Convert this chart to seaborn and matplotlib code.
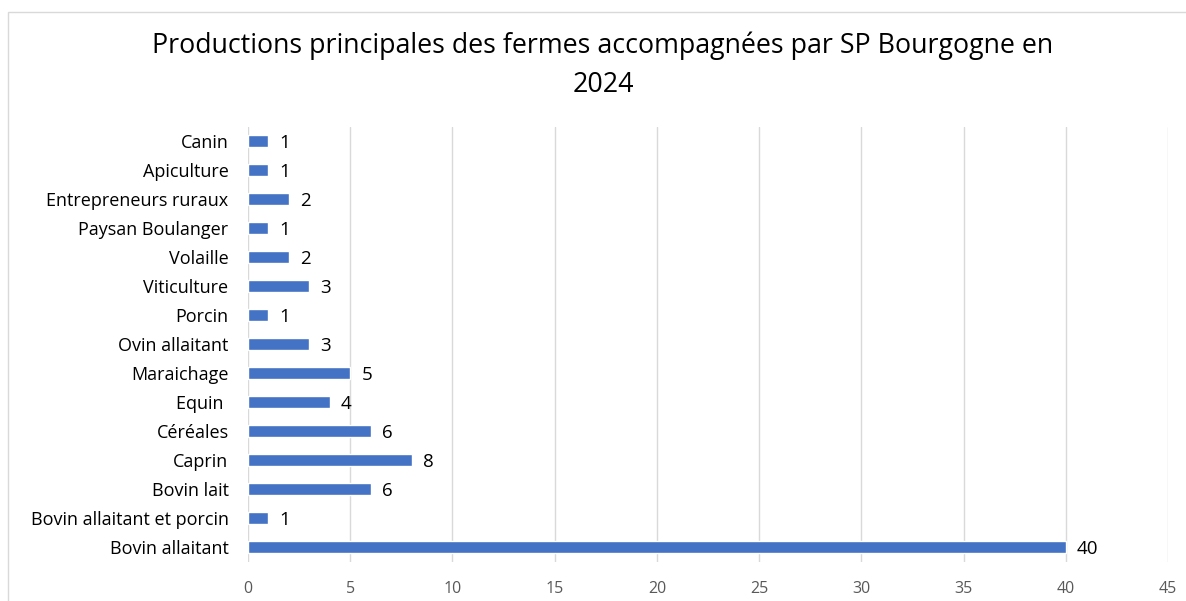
import matplotlib
matplotlib.use("Agg")
import matplotlib.pyplot as plt
import seaborn as sns
import pandas as pd
from matplotlib.patches import Rectangle

categories = ["Canin", "Apiculture", "Entrepreneurs ruraux", "Paysan Boulanger", "Volaille",
              "Viticulture", "Porcin", "Ovin allaitant", "Maraichage", "Equin ",
              "Céréales", "Caprin", "Bovin lait", "Bovin allaitant et porcin", "Bovin allaitant"]
values = [1, 1, 2, 1, 2, 3, 1, 3, 5, 4, 6, 8, 6, 1, 40]
x_ticks = [0, 5, 10, 15, 20, 25, 30, 35, 40, 45]
title = "Productions principales des fermes accompagnées par SP Bourgogne en\n2024"

df = pd.DataFrame({"cat": categories, "val": values})

sns.set_theme(style="white")
plt.rcParams['font.family'] = ['Open Sans', 'DejaVu Sans']

fig = plt.figure(figsize=(11.86, 6.01), dpi=100)
ax = fig.add_axes([248/1186, 1-561.5/601, 920/1186, 435/601])

sns.barplot(data=df, x="val", y="cat", orient="h", color="#4472C4", width=0.4,
            saturation=1, ax=ax, order=categories)

ax.set_xlim(0, 45)
ax.set_xticks(x_ticks)
ax.set_xlabel("")
ax.set_ylabel("")
for s in ax.spines.values():
    s.set_visible(False)
ax.grid(axis="x", color="#D9D9D9", linewidth=1)
ax.set_axisbelow(True)
ax.tick_params(axis="x", length=0, labelsize=11.5, labelcolor="#595959", pad=14)
ax.tick_params(axis="y", length=0, labelsize=13, labelcolor="#000000", pad=14)

for i, v in enumerate(values):
    ax.text(v + 0.55, i, str(v), va="center_baseline", ha="left", fontsize=13.5, color="black")

fig.text(603/1186, 1-65/601, title, ha="center", va="center", fontsize=19.3,
         color="black", linespacing=1.5)

fig.patches.append(Rectangle((8/1186, -0.1), 1.2, 1-12/601 + 0.1, transform=fig.transFigure,
                             fill=False, edgecolor="#D9D9D9", linewidth=1))

fig.savefig("out.png", dpi=100)
